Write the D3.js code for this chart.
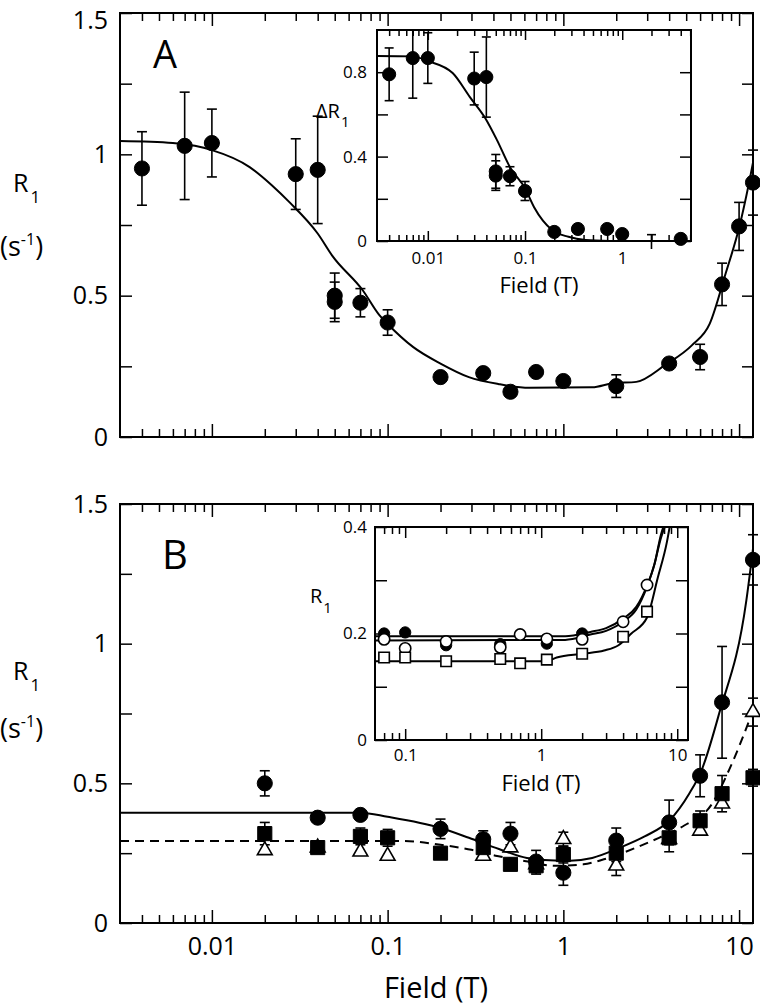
<!DOCTYPE html>
<html><head><meta charset="utf-8">
<script src="https://cdn.jsdelivr.net/npm/d3@7"></script>
<style>body{margin:0;background:#fff}</style>
</head><body>
<svg id="c" width="760" height="1008"></svg>
<script>
// ---------- DATA ----------
// Panel A main (R1 vs Field)
const aField = [0.004,0.007,0.01,0.03,0.04,0.05,0.05,0.07,0.1,0.2,0.35,0.5,0.7,1,2,4,6,8,10,12];
const aR1    = [0.95,1.03,1.04,0.93,0.945,0.50,0.478,0.475,0.405,0.212,0.226,0.16,0.23,0.198,0.18,0.26,0.283,0.54,0.745,0.90];
const aErr   = [0.13,0.19,0.12,0.125,0.19,0.08,0.07,0.05,0.045,0,0,0,0,0,0.04,0.015,0.045,0.075,0.085,0.115];
const aFitField = [0.003,0.006,0.008,0.01,0.0164,0.022,0.0277,0.04,0.0486,0.072,0.09,0.1,0.14,0.2,0.29,0.43,0.64,1.46,1.9,2.6,3.8,5.4,6.8,8.4,10,11.4,12];
const aFitR1    = [1.047,1.04,1.03,1.015,0.955,0.89,0.83,0.72,0.64,0.52,0.43,0.40,0.318,0.26,0.212,0.187,0.174,0.176,0.19,0.195,0.255,0.325,0.40,0.58,0.74,0.90,0.97];
// Inset A (ΔR1)
const iaField = [0.004,0.007,0.01,0.03,0.04,0.05,0.05,0.07,0.1,0.2,0.35,0.7,1,2,4];
const iaDR1   = [0.79,0.867,0.867,0.77,0.777,0.33,0.31,0.307,0.237,0.043,0.057,0.057,0.033,-0.08,0.01];
const iaErr   = [0.125,0.19,0.12,0.125,0.19,0.08,0.07,0.045,0.045,0,0,0.01,0,0.11,0];
const iaFitField = [0.003,0.007,0.01,0.018,0.0271,0.0389,0.0515,0.07,0.1,0.124,0.19,0.28,0.42,0.75];
const iaFitDR1   = [0.877,0.875,0.853,0.796,0.682,0.583,0.478,0.35,0.25,0.16,0.052,0.02,0.005,0];
// Panel B main
const bcField = [0.02,0.04,0.07,0.2,0.35,0.5,0.7,1,2,4,6,8,12];
const bcR1    = [0.50,0.377,0.387,0.337,0.30,0.32,0.22,0.18,0.295,0.36,0.527,0.79,1.30];
const bcErr   = [0.045,0,0,0.035,0.03,0.04,0.04,0.045,0.045,0.08,0.075,0.2,0.09];
const bsField = [0.02,0.04,0.07,0.1,0.2,0.35,0.5,0.7,1,2,4,6,8,12];
const bsR1    = [0.32,0.27,0.31,0.305,0.25,0.27,0.21,0.205,0.245,0.25,0.305,0.366,0.463,0.52];
const bsErr   = [0.04,0.01,0.03,0.03,0.01,0.03,0.02,0.03,0.03,0.03,0.05,0.035,0.065,0.03];
const btField = [0.02,0.04,0.07,0.1,0.35,0.5,0.7,1,2,4,6,8,12];
const btR1    = [0.26,0.27,0.255,0.24,0.24,0.27,0.21,0.30,0.205,0.30,0.33,0.427,0.755];
const btErr   = [0,0,0,0,0,0,0,0.025,0.035,0,0,0,0.05];
const bSolidField = [0.003,0.07,0.1,0.2,0.29,0.43,0.62,1.04,1.46,2.1,2.9,4,5.2,6.1,7.7,11,12];
const bSolidR1    = [0.395,0.395,0.38,0.34,0.305,0.265,0.233,0.222,0.233,0.27,0.31,0.366,0.463,0.545,0.75,1.155,1.34];
const bDashField = [0.003,0.12,0.2,0.3,0.42,0.6,0.9,1.3,1.7,2.6,3.5,4.9,6.9,8.8,12];
const bDashR1    = [0.294,0.294,0.28,0.262,0.24,0.222,0.205,0.21,0.228,0.27,0.305,0.35,0.42,0.55,0.76];
// Inset B
const ibFcField = [0.07,0.1,0.2,0.5,1.1,2];
const ibFcR1    = [0.2,0.202,0.178,0.18,0.181,0.2];
const ibOcField = [0.07,0.1,0.2,0.5,0.7,1.1,2,4,6];
const ibOcR1    = [0.189,0.172,0.185,0.174,0.198,0.19,0.189,0.222,0.291];
const ibSqField = [0.07,0.1,0.2,0.5,0.7,1.1,2,4,6];
const ibSqR1    = [0.155,0.155,0.148,0.152,0.144,0.151,0.162,0.194,0.241];
const ibFitFcField = [0.06,1.5,2.3,3,4,5,6,6.8,7.6,7.9];
const ibFitFcR1    = [0.195,0.195,0.203,0.21,0.228,0.25,0.29,0.33,0.386,0.40];
const ibFitOcField = [0.06,1.5,2.3,3,4,5,6,6.8,7.6,8.1];
const ibFitOcR1    = [0.187,0.188,0.198,0.205,0.222,0.245,0.288,0.33,0.38,0.40];
const ibFitSqField = [0.06,1.1,1.3,2,2.9,3.7,4.6,6,7.2,8.4,8.8];
const ibFitSqR1    = [0.148,0.148,0.155,0.162,0.168,0.178,0.2,0.23,0.305,0.372,0.40];
// Tick label sets
const mainYLabels = [0, 0.5, 1, 1.5];
const mainYMinor = [0.25, 0.75, 1.25];
const iaYTicks = [0, 0.2, 0.4, 0.6, 0.8];
const iaYLabels = [0, 0.4, 0.8];
const ibYTicks = [0, 0.1, 0.2, 0.3, 0.4];
const ibYLabels = [0, 0.2, 0.4];

// ---------- DRAW ----------
const FONT = "'Open Sans', 'DejaVu Sans', sans-serif";
const svg = d3.select("#c");
const zip = (xs, ys, es) => xs.map((x, i) => ({x, y: ys[i], e: es ? es[i] : 0}));
const isMaj = t => Math.abs(Math.log10(t) - Math.round(Math.log10(t))) < 1e-6;

function frame(g, x, y, o) {
  const [xa, xb] = x.range(), [yb, ya] = y.range();
  g.append("rect").attr("x", xa).attr("y", ya).attr("width", xb - xa).attr("height", yb - ya)
    .attr("fill", o.fill || "none");
  const xt = x.ticks(), xMaj = xt.filter(isMaj), xMin = xt.filter(t => !isMaj(t) && t > x.domain()[0] * 1.0001);
  const style = sel => { sel.select(".domain").remove(); sel.selectAll("line").attr("stroke", "#000").attr("stroke-width", 1.5);
    sel.attr("font-family", FONT).attr("font-size", o.fs).selectAll("text").attr("fill", "#000"); };
  const fmtX = o.xLabels ? d3.format("~g") : () => "";
  g.append("g").attr("transform", `translate(0,${yb})`)
    .call(d3.axisBottom(x).tickValues(xMaj).tickSize(-o.xMaj).tickPadding(o.xPad).tickFormat(fmtX)).call(style);
  g.append("g").attr("transform", `translate(0,${yb})`)
    .call(d3.axisBottom(x).tickValues(xMin).tickSize(-o.xMin).tickFormat(() => "")).call(style);
  g.append("g").attr("transform", `translate(0,${ya})`)
    .call(d3.axisTop(x).tickValues(xMaj).tickSize(-o.xMaj).tickFormat(() => "")).call(style);
  g.append("g").attr("transform", `translate(0,${ya})`)
    .call(d3.axisTop(x).tickValues(xMin).tickSize(-o.xMin).tickFormat(() => "")).call(style);
  const yl = o.yLabels;
  const left = g.append("g").attr("transform", `translate(${xa},0)`)
    .call(d3.axisLeft(y).tickValues(o.yTicks).tickSize(-o.yLen).tickPadding(o.yPad)
      .tickFormat(t => yl.some(v => Math.abs(v - t) < 1e-9) ? d3.format("~g")(t) : "")).call(style);
  if (o.topLabelShift) {
    left.selectAll(".tick").filter(t => t === y.domain()[1]).select("text").attr("dy", o.topLabelShift);
  }
  g.append("g").attr("transform", `translate(${xb},0)`)
    .call(d3.axisRight(y).tickValues(o.yTicks).tickSize(-o.yRLen).tickFormat(() => "")).call(style);
  g.append("rect").attr("x", xa).attr("y", ya).attr("width", xb - xa).attr("height", yb - ya)
    .attr("fill", "none").attr("stroke", "#000").attr("stroke-width", 2);
}

function curve(g, x, y, xs, ys, dash) {
  const line = d3.line().x(d => x(d[0])).y(d => y(d[1])).curve(d3.curveMonotoneX);
  g.append("path").attr("d", line(xs.map((v, i) => [v, ys[i]])))
    .attr("fill", "none").attr("stroke", "#000").attr("stroke-width", 2)
    .attr("stroke-dasharray", dash ? "9,6" : null);
}

function errBars(g, x, y, pts, cap) {
  pts.filter(d => d.e > 0).forEach(d => {
    const cx = x(d.x), y1 = y(d.y + d.e), y2 = y(d.y - d.e);
    g.append("line").attr("x1", cx).attr("x2", cx).attr("y1", y1).attr("y2", y2).attr("stroke", "#000").attr("stroke-width", 1.6);
    [y1, y2].forEach(yy => g.append("line").attr("x1", cx - cap / 2).attr("x2", cx + cap / 2).attr("y1", yy).attr("y2", yy)
      .attr("stroke", "#000").attr("stroke-width", 1.6));
  });
}

function markers(g, x, y, pts, type, size, filled) {
  const sym = {circle: d3.symbolCircle, square: d3.symbolSquare, triangle: d3.symbolTriangle}[type];
  g.selectAll(null).data(pts).join("path")
    .attr("d", d3.symbol(sym).size(size))
    .attr("transform", d => `translate(${x(d.x)},${y(d.y)})`)
    .attr("fill", filled ? "#000" : "#fff").attr("stroke", "#000").attr("stroke-width", filled ? 1 : 1.6);
}

function txt(g, x, y, parts, fs, anchor) {
  const t = g.append("text").attr("x", x).attr("y", y).attr("font-family", FONT).attr("font-size", fs)
    .attr("text-anchor", anchor || "start").attr("fill", "#000");
  parts.forEach(p => {
    const s = t.append("tspan").text(p.t);
    if (p.fs) s.attr("font-size", p.fs);
    if (p.dy) s.attr("dy", p.dy);
    if (p.dx) s.attr("dx", p.dx);
  });
  return t;
}

// scales
const xMain = d3.scaleLog().domain([0.003, 12]).range([120, 753]);
const yA = d3.scaleLinear().domain([0, 1.5]).range([437, 13]);
const yB = d3.scaleLinear().domain([0, 1.5]).range([923, 504]);
const xIA = d3.scaleLog().domain([0.003, 5.1]).range([377, 691]);
const yIA = d3.scaleLinear().domain([0, 1]).range([241, 30]);
const xIB = d3.scaleLog().domain([0.06, 12]).range([375, 688]);
const yIB = d3.scaleLinear().domain([0, 0.4]).range([740, 527]);

const mainOpts = {xMaj: 13, xMin: 8, xPad: 14, yTicks: mainYLabels.concat(mainYMinor), yLabels: mainYLabels, yLen: 12, yRLen: 11, yPad: 12, fs: 25};

// ===== Panel A =====
const gA = svg.append("g");
frame(gA, xMain, yA, Object.assign({}, mainOpts, {xLabels: false, topLabelShift: "0.6em"}));
curve(gA, xMain, yA, aFitField, aFitR1);
const aPts = zip(aField, aR1, aErr);
errBars(gA, xMain, yA, aPts, 10);
markers(gA, xMain, yA, aPts, "circle", 180, true);
txt(gA, 153, 68, [{t: "A"}], 38);
txt(gA, 13, 192, [{t: "R"}, {t: "1", fs: 17, dy: 11, dx: 2}], 25);
txt(gA, 0, 256, [{t: "(s"}, {t: "-1", fs: 16, dy: -11}, {t: ")", dy: 11}], 27);

// Inset A
const gIA = svg.append("g");
frame(gIA, xIA, yIA, {fill: "#fff", xMaj: 10, xMin: 6, xPad: 11, xLabels: true, yTicks: iaYTicks, yLabels: iaYLabels, yLen: 11, yRLen: 11, yPad: 10, fs: 17});
svg.append("clipPath").attr("id", "clipIA").append("rect").attr("x", 370).attr("y", 30).attr("width", 330).attr("height", 219);
const gIAc = gIA.append("g").attr("clip-path", "url(#clipIA)");
curve(gIAc, xIA, yIA, iaFitField, iaFitDR1);
const iaPts = zip(iaField, iaDR1, iaErr);
errBars(gIAc, xIA, yIA, iaPts, 9);
markers(gIAc, xIA, yIA, iaPts, "circle", 135, true);
txt(gIA, 539, 293, [{t: "Field (T)"}], 22, "middle");
txt(gIA, 316, 118, [{t: "ΔR"}, {t: "1", fs: 15, dy: 9, dx: 1}], 20);

// ===== Panel B =====
const gB = svg.append("g");
frame(gB, xMain, yB, Object.assign({}, mainOpts, {xLabels: true}));
curve(gB, xMain, yB, bSolidField, bSolidR1);
curve(gB, xMain, yB, bDashField, bDashR1, true);
const btPts = zip(btField, btR1, btErr), bsPts = zip(bsField, bsR1, bsErr), bcPts = zip(bcField, bcR1, bcErr);
errBars(gB, xMain, yB, btPts, 10);
errBars(gB, xMain, yB, bsPts, 10);
errBars(gB, xMain, yB, bcPts, 10);
markers(gB, xMain, yB, btPts, "triangle", 95, false);
markers(gB, xMain, yB, bsPts, "square", 200, true);
markers(gB, xMain, yB, bcPts, "circle", 180, true);
txt(gB, 162, 569, [{t: "B"}], 40);
txt(gB, 13, 680, [{t: "R"}, {t: "1", fs: 17, dy: 11, dx: 2}], 25);
txt(gB, 0, 738, [{t: "(s"}, {t: "-1", fs: 16, dy: -11}, {t: ")", dy: 11}], 27);
txt(gB, 436, 998, [{t: "Field (T)"}], 29, "middle");

// Inset B
const gIB = svg.append("g");
frame(gIB, xIB, yIB, {fill: "#fff", xMaj: 11, xMin: 7, xPad: 9, xLabels: true, yTicks: ibYTicks, yLabels: ibYLabels, yLen: 12, yRLen: 12, yPad: 8, fs: 17});
svg.append("clipPath").attr("id", "clipIB").append("rect").attr("x", 375).attr("y", 527).attr("width", 313).attr("height", 213);
const gIBc = gIB.append("g").attr("clip-path", "url(#clipIB)");
curve(gIBc, xIB, yIB, ibFitFcField, ibFitFcR1);
curve(gIBc, xIB, yIB, ibFitOcField, ibFitOcR1);
curve(gIBc, xIB, yIB, ibFitSqField, ibFitSqR1);
markers(gIBc, xIB, yIB, zip(ibFcField, ibFcR1), "circle", 100, true);
markers(gIBc, xIB, yIB, zip(ibOcField, ibOcR1), "circle", 100, false);
markers(gIBc, xIB, yIB, zip(ibSqField, ibSqR1), "square", 110, false);
txt(gIB, 541, 791, [{t: "Field (T)"}], 22, "middle");
txt(gIB, 310, 603, [{t: "R"}, {t: "1", fs: 15, dy: 10, dx: 1}], 20);
</script>
</body></html>
